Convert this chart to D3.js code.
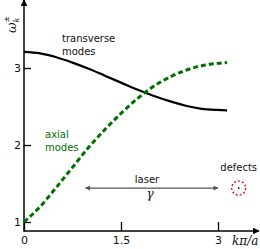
<!DOCTYPE html>
<html>
<head>
<meta charset="utf-8">
<script src="https://cdn.jsdelivr.net/npm/d3@7"></script>
<style>
  body { margin: 0; background: #fff; }
  svg text { font-family: "DejaVu Sans", sans-serif; }
</style>
</head>
<body>
<div id="chart"></div>
<script>
// wave number k (units of pi/a) and the two branches
const kValues = [0, 0.25, 0.5, 0.75, 1.0, 1.25, 1.5, 1.75, 2.0, 2.25, 2.5, 2.75, 3.0, 3.14];
const transverse = [3.21, 3.19, 3.14, 3.07, 2.99, 2.90, 2.81, 2.72, 2.64, 2.57, 2.51, 2.47, 2.455, 2.45];
const axial = [1.00, 1.20, 1.45, 1.71, 1.97, 2.20, 2.41, 2.60, 2.76, 2.88, 2.97, 3.03, 3.06, 3.07];
const xTicks = [0, 1.5, 3];
const yTicks = [1, 2, 3];
const laserRange = [0.95, 3.0];
const defectPos = [3.32, 1.44];

const width = 260, height = 249;
const svg = d3.select("#chart").append("svg")
    .attr("width", width)
    .attr("height", height);

const x = d3.scaleLinear().domain([0, 3]).range([24, 218]);
const y = d3.scaleLinear().domain([1, 3]).range([222, 68]);
const axisY = 231;

const defs = svg.append("defs");
defs.append("marker").attr("id", "blackArrow")
    .attr("viewBox", "0 0 10 10").attr("refX", 9).attr("refY", 5)
    .attr("markerWidth", 7).attr("markerHeight", 7).attr("markerUnits", "userSpaceOnUse")
    .attr("orient", "auto")
    .append("path").attr("d", "M0,0 L10,5 L0,10 Z").attr("fill", "#000");
defs.append("marker").attr("id", "grayArrow")
    .attr("viewBox", "0 0 10 10").attr("refX", 9).attr("refY", 5)
    .attr("markerWidth", 7).attr("markerHeight", 5).attr("markerUnits", "userSpaceOnUse")
    .attr("orient", "auto-start-reverse")
    .append("path").attr("d", "M0,0 L10,5 L0,10 Z").attr("fill", "#555");

// axes
let gx = svg.append("g")
    .attr("transform", "translate(0," + axisY + ")")
    .call(d3.axisBottom(x).tickValues(xTicks).tickSizeInner(-9).tickSizeOuter(0).tickPadding(5)
        .tickFormat(d3.format("")));
gx.select(".domain").remove();
gx.selectAll(".tick line").attr("stroke", "#000").attr("stroke-width", 1.3);
gx.selectAll("text").attr("font-size", 11).attr("font-family", "DejaVu Sans").attr("fill", "#111");

let gy = svg.append("g")
    .attr("transform", "translate(" + x(0) + ",0)")
    .call(d3.axisLeft(y).tickValues(yTicks).tickSizeInner(-7).tickSizeOuter(0).tickPadding(3)
        .tickFormat(d3.format("")));
gy.select(".domain").remove();
gy.selectAll(".tick line").attr("stroke", "#000").attr("stroke-width", 1.3);
gy.selectAll("text").attr("font-size", 11).attr("font-family", "DejaVu Sans").attr("fill", "#111");

svg.append("line")
    .attr("x1", x(0)).attr("y1", axisY).attr("x2", 259).attr("y2", axisY)
    .attr("stroke", "#000").attr("stroke-width", 1.5)
    .attr("marker-end", "url(#blackArrow)");
svg.append("line")
    .attr("x1", x(0)).attr("y1", axisY + 0.75).attr("x2", x(0)).attr("y2", 0)
    .attr("stroke", "#000").attr("stroke-width", 1.5)
    .attr("marker-end", "url(#blackArrow)");

// axis labels
svg.append("text")
    .attr("x", 232).attr("y", 245)
    .style("font-family", "'DejaVu Serif', serif").style("font-style", "italic")
    .attr("font-size", 12).attr("fill", "#111")
    .text("kπ/a");

let yl = svg.append("text")
    .attr("transform", "translate(16,33) rotate(-90)")
    .style("font-family", "'DejaVu Serif', serif").style("font-style", "italic")
    .attr("font-size", 13).attr("fill", "#111");
yl.append("tspan").text("ω");
yl.append("tspan").attr("font-size", 8).attr("dy", 3).text("k");
yl.append("tspan").attr("font-size", 8).attr("dx", -5).attr("dy", -10).style("font-style", "normal").text("±");

// curves
const line = d3.line()
    .x((d, i) => x(kValues[i]))
    .y(d => y(d))
    .curve(d3.curveMonotoneX);

svg.append("path")
    .datum(transverse)
    .attr("d", line)
    .attr("fill", "none")
    .attr("stroke", "#000")
    .attr("stroke-width", 2.2);

svg.append("path")
    .datum(axial)
    .attr("d", line)
    .attr("fill", "none")
    .attr("stroke", "#007000")
    .attr("stroke-width", 3)
    .attr("stroke-dasharray", "5,3");

// curve labels
let tl = svg.append("text").attr("font-size", 10).attr("fill", "#111");
tl.append("tspan").attr("x", 62).attr("y", 42).text("transverse");
tl.append("tspan").attr("x", 62).attr("y", 55).text("modes");

let al = svg.append("text").attr("font-size", 10).attr("fill", "#007000");
al.append("tspan").attr("x", 45).attr("y", 138).text("axial");
al.append("tspan").attr("x", 45).attr("y", 151).text("modes");

// laser arrow
svg.append("line")
    .attr("x1", x(laserRange[0])).attr("y1", y(defectPos[1]))
    .attr("x2", x(laserRange[1])).attr("y2", y(defectPos[1]))
    .attr("stroke", "#555").attr("stroke-width", 1.3)
    .attr("marker-start", "url(#grayArrow)")
    .attr("marker-end", "url(#grayArrow)");
svg.append("text")
    .attr("x", 147).attr("y", 183).attr("text-anchor", "middle")
    .attr("font-size", 10).attr("fill", "#111").text("laser");
svg.append("text")
    .attr("x", 150).attr("y", 198).attr("text-anchor", "middle")
    .style("font-family", "'DejaVu Serif', serif").style("font-style", "italic")
    .attr("font-size", 12).attr("fill", "#111").text("γ");

// defects
svg.append("circle")
    .attr("cx", x(defectPos[0])).attr("cy", y(defectPos[1])).attr("r", 7)
    .attr("fill", "none").attr("stroke", "#e00").attr("stroke-width", 1.3)
    .attr("stroke-dasharray", "2,2");
svg.append("circle")
    .attr("cx", x(defectPos[0])).attr("cy", y(defectPos[1])).attr("r", 0.9)
    .attr("fill", "#000");
svg.append("text")
    .attr("x", x(defectPos[0])).attr("y", 171).attr("text-anchor", "middle")
    .attr("font-size", 10).attr("fill", "#111").text("defects");
</script>
</body>
</html>
